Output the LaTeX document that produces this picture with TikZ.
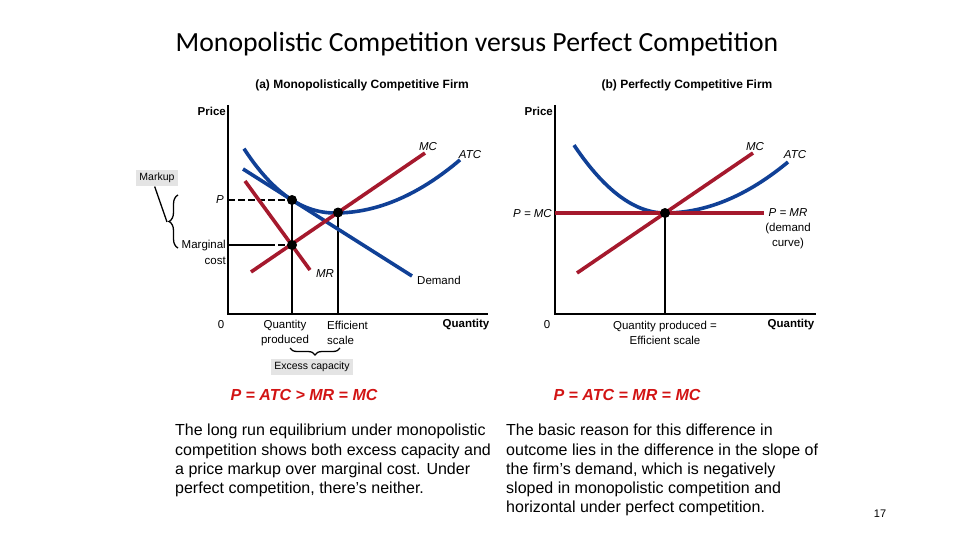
\documentclass[tikz,border=0pt]{standalone}
\usepackage{fontspec}
\setmainfont{Liberation Sans}
\newfontfamily\titlefont{Carlito}
\usetikzlibrary{decorations.pathreplacing}
\definecolor{curveblue}{RGB}{16,64,150}
\definecolor{curvered}{RGB}{165,25,45}
\definecolor{eqred}{RGB}{210,20,20}
\definecolor{boxgray}{RGB}{228,228,228}
\begin{document}
\begin{tikzpicture}[x=1pt,y=-1pt,
  axis/.style={line width=2.6pt},
  bluecurve/.style={curveblue, line width=3.6pt},
  redcurve/.style={curvered, line width=3.6pt},
  guide/.style={line width=1.8pt},
  guidedash/.style={line width=1.6pt, dash pattern=on 7pt off 3pt},
  dot/.style={circle, fill=black, inner sep=0pt, minimum size=10pt},
  lab/.style={font=\fontsize{11.5}{15}\selectfont, inner sep=0pt},
  blab/.style={font=\bfseries\fontsize{11.5}{15}\selectfont, inner sep=0pt},
  ilab/.style={font=\itshape\fontsize{11.5}{15}\selectfont, inner sep=0pt},
  graybox/.style={fill=boxgray, inner sep=3.5pt, font=\fontsize{10.5}{12}\selectfont},
  bracestyle/.style={decorate, line width=1.3pt},
  eq/.style={eqred, font=\bfseries\itshape\fontsize{16}{18}\selectfont, inner sep=0pt},
  body/.style={font=\fontsize{16}{19.3}\selectfont, align=left, inner sep=0pt, anchor=north west}
]
\useasboundingbox (0,0) rectangle (960,540);

% Title and subtitles
\node[font=\titlefont\fontsize{27.7}{32}\selectfont] (title) at (477,44) {Monopolistic Competition versus Perfect Competition};
\node[font=\bfseries\fontsize{12}{15}\selectfont, inner sep=0pt] (suba) at (362,85) {(a) Monopolistically Competitive Firm};
\node[font=\bfseries\fontsize{12}{15}\selectfont, inner sep=0pt] (subb) at (687,85) {(b) Perfectly Competitive Firm};

% ---------- Left panel ----------
\coordinate (LY) at (228,105);
\coordinate (LO) at (228,314);
\coordinate (LX) at (488,314);
\coordinate (Pax) at (228,200);
\coordinate (MCax) at (228,245);
\coordinate (MCmid) at (268,245);
\coordinate (Afoot) at (292,314);
\coordinate (Efoot) at (338,314);
\coordinate (Dtop) at (243,169);
\coordinate (Dbot) at (412,276);
\coordinate (MRtop) at (245,181);
\coordinate (MRbot) at (310,270);
\coordinate (MCbot) at (251,272);
\coordinate (MCtop) at (425,153);

\draw[axis] (LY) -- (LO) -- (LX);
\draw[guidedash] (Pax) -- (292,200);
\draw[guide] (MCax) -- (MCmid);
\draw[guidedash] (MCmid) -- (292,245);
\draw[guide] (292,200) -- (Afoot);
\draw[guide] (338,212.5) -- (Efoot);

\draw[bluecurve] plot[domain=244:335, samples=40] (\x,{213-0.637*((\x-335)/10)*((\x-335)/10)-0.0154*abs((\x-335)/10)*((\x-335)/10)*((\x-335)/10)})
  -- plot[domain=335:460, samples=40] (\x,{213-0.34*((\x-335)/10)*((\x-335)/10)});
\draw[bluecurve] (Dtop) -- (Dbot);
\draw[redcurve] (MRtop) -- (MRbot);
\draw[redcurve] (MCbot) -- (MCtop);

\node[dot] (A) at (292,200) {};
\node[dot] (B) at (292,245) {};
\node[dot] (E) at (338,212.5) {};

\node[blab, anchor=east] (priceL) at (226,111) {Price};
\node[ilab] (mcL) at (428,147) {MC};
\node[ilab] (atcL) at (470,155) {ATC};
\node[ilab, anchor=east] (pL) at (224,200) {P};
\node[lab, anchor=east] (margL) at (226,246) {Marginal};
\node[lab, anchor=east] (costL) at (226,261) {cost};
\node[ilab] (mrL) at (325,274) {MR};
\node[lab, anchor=west] (demL) at (417,280) {Demand};
\node[lab] (zeroL) at (221,325) {0};
\node[lab, align=center] (qpL) at (285,333) {Quantity\\produced};
\node[lab, align=left, anchor=west] (esL) at (327,333) {Efficient\\scale};
\node[blab] (qL) at (466,325) {Quantity};

% Markup
\node[graybox] (markup) at (157,178) {Markup};
\coordinate (mtip) at (167,222);
\draw[bracestyle, decoration={brace, amplitude=9pt}] (178,248) -- (178,195);
\draw[line width=1.3pt] (markup.255) -- (mtip);

% Excess capacity
\draw[bracestyle, decoration={brace, amplitude=7pt}] (340,348) -- (290,348);
\node[graybox] (excess) at (312,367) {Excess capacity};

% ---------- Right panel ----------
\coordinate (RY) at (555,105);
\coordinate (RO) at (555,314);
\coordinate (RX) at (816,314);
\coordinate (PMRl) at (555,213);
\coordinate (PMRr) at (764,213);
\coordinate (Rfoot) at (665,314);
\coordinate (RMCbot) at (577,273);
\coordinate (RMCtop) at (753,153);

\draw[axis] (RY) -- (RO) -- (RX);
\draw[guide] (665,213) -- (Rfoot);
\draw[bluecurve] plot[domain=574:665, samples=40] (\x,{213-0.82*((\x-665)/10)*((\x-665)/10)})
  -- plot[domain=665:788, samples=40] (\x,{213-0.337*((\x-665)/10)*((\x-665)/10)});
\draw[redcurve] (PMRl) -- (PMRr);
\draw[redcurve] (RMCbot) -- (RMCtop);
\node[dot] (R) at (665,213) {};

\node[blab, anchor=east] (priceR) at (553,111) {Price};
\node[ilab] (mcR) at (755,147) {MC};
\node[ilab] (atcR) at (795,155) {ATC};
\node[ilab, anchor=east] (pmcR) at (552,214) {P = MC};
\node[lab, align=center] (pmrR) at (788,229) {\itshape P = MR\\(demand\\curve)};
\node[lab] (zeroR) at (547,325) {0};
\node[lab, align=center] (qpR) at (665,333) {Quantity produced =\\Efficient scale};
\node[blab] (qR) at (791,325) {Quantity};

% Equations
\node[eq] (eqL) at (304,395) {P = ATC > MR = MC};
\node[eq] (eqR) at (627,395) {P = ATC = MR = MC};

% Body text
\node[body] (bodyL) at (175,424) {The long run equilibrium under monopolistic\\competition shows both excess capacity and\\a price markup over marginal cost. Under\\perfect competition, there's neither.};
\node[body] (bodyR) at (506,424) {The basic reason for this difference in\\outcome lies in the difference in the slope of\\the firm's demand, which is negatively\\sloped in monopolistic competition and\\horizontal under perfect competition.};
\node[font=\fontsize{11}{13}\selectfont] (pagenum) at (880,514) {17};
\end{tikzpicture}
\end{document}
